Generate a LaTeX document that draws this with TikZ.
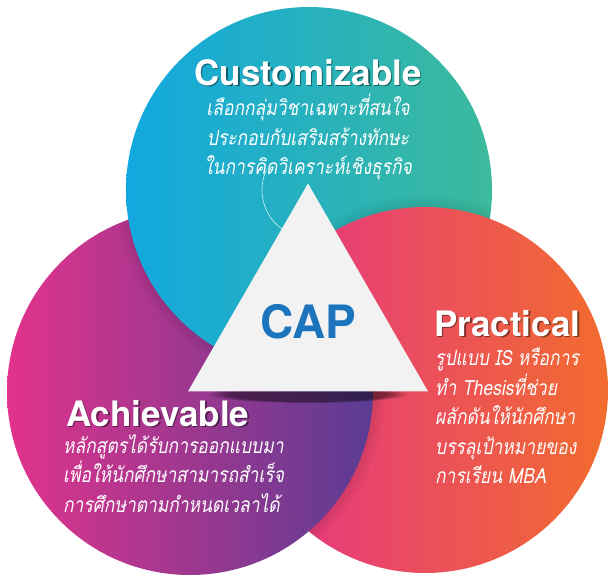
\documentclass[tikz,border=0pt]{standalone}
\usepackage{fontspec}
\setmainfont{TeX Gyre Heros}
\newfontfamily\thaifont[Script=Thai,FakeSlant=0.18,FakeStretch=0.83]{Loma}
\usetikzlibrary{positioning,fadings,shapes.geometric}

\definecolor{custleft}{HTML}{12A8DF}
\definecolor{custright}{HTML}{3CBA9C}
\definecolor{achvleft}{HTML}{E1338C}
\definecolor{achvright}{HTML}{5A3C93}
\definecolor{pracleft}{HTML}{E3318B}
\definecolor{pracright}{HTML}{F26C2E}
\definecolor{capblue}{HTML}{1C75BC}
\definecolor{trigray}{HTML}{F2F2F2}

\tikzset{
    cust/.style={left color=custleft, right color=custright},
    achv/.style={left color=achvleft, right color=achvright},
    prac/.style={left color=pracleft, right color=pracright},
    circshadow/.style={fill=black, fill opacity=0.3, path fading=circle with fuzzy edge 20 percent},
    captri/.style={regular polygon, regular polygon sides=3, minimum size=277pt, fill=trigray,
        inner sep=0pt, text=capblue, font=\bfseries\fontsize{46}{46}\selectfont},
    ttl/.style={text=white, inner sep=0pt, font=\bfseries\fontsize{35}{35}\selectfont},
    ttlsh/.style={ttl, text=black, text opacity=0.45},
    desc/.style={text=white, inner sep=0pt, font=\thaifont\fontsize{21}{29.5}\selectfont}
}

\begin{document}
\begin{tikzpicture}[x=1pt,y=-1pt]
    % Circle radius and centres
    \def\rad{183}
    \coordinate (tc) at (309,190);
    \coordinate (lc) at (190,392);
    \coordinate (rc) at (425,390);

    \useasboundingbox (0,0) rectangle (614,584);

    % Left circle, with the top one's shadow on it
    \shade[achv] (lc) circle (\rad);
    \begin{scope}
        \clip (lc) circle (\rad);
        \fill[circshadow, shift={(3,4)}] (tc) circle (\rad+12);
    \end{scope}

    % Top circle, with the right one's shadow on it
    \shade[cust] (tc) circle (\rad);
    \begin{scope}
        \clip (tc) circle (\rad);
        \fill[circshadow, shift={(-3,-2)}] (rc) circle (\rad+12);
    \end{scope}

    % Right circle
    \shade[prac] (rc) circle (\rad);

    % Left circle again where it lies over the right one
    \begin{scope}
        \clip (rc) circle (\rad);
        \fill[circshadow, shift={(3,2)}] (lc) circle (\rad+12);
        \shade[achv] (lc) circle (\rad);
    \end{scope}

    % Thin arc in the top circle
    \draw[white, opacity=0.8, line width=0.6pt] (310,190) ++(205:48) arc (205:125:48);

    % Triangle with its shadow
    \fill[black, fill opacity=0.45, path fading=circle with fuzzy edge 20 percent] (308,394) ellipse (100 and 9);
    \node[captri] (cap) at (308,322) {CAP};

    % Titles
    \node[ttlsh, anchor=base] at (309.5,86.5) {Customizable};
    \node[ttl, anchor=base] (custom) at (308,85) {Customizable};
    \node[ttlsh, anchor=base west] at (435.5,337.5) {Practical};
    \node[ttl, anchor=base west] (practical) at (434,336) {Practical};
    \node[ttlsh, anchor=base west] at (67.5,427.5) {Achievable};
    \node[ttl, anchor=base west] (achievable) at (66,426) {Achievable};

    % Descriptions
    \node[desc, align=center, below=9pt of custom.base] (customtxt)
        {เลือกกลุ่มวิชาเฉพาะที่สนใจ\\ประกอบกับเสริมสร้างทักษะ\\ในการคิดวิเคราะห์เชิงธุรกิจ};
    \node[desc, align=left, below right=12pt and 1pt of practical.base west] (practicaltxt)
        {รูปแบบ IS หรือการ\\ทำ Thesisที่ช่วย\\ผลักดันให้นักศึกษา\\บรรลุเป้าหมายของ\\การเรียน MBA};
    \node[desc, align=left, below right=8pt and -3pt of achievable.base west] (achievabletxt)
        {หลักสูตรได้รับการออกแบบมา\\เพื่อให้นักศึกษาสามารถสำเร็จ\\การศึกษาตามกำหนดเวลาได้};
\end{tikzpicture}
\end{document}
